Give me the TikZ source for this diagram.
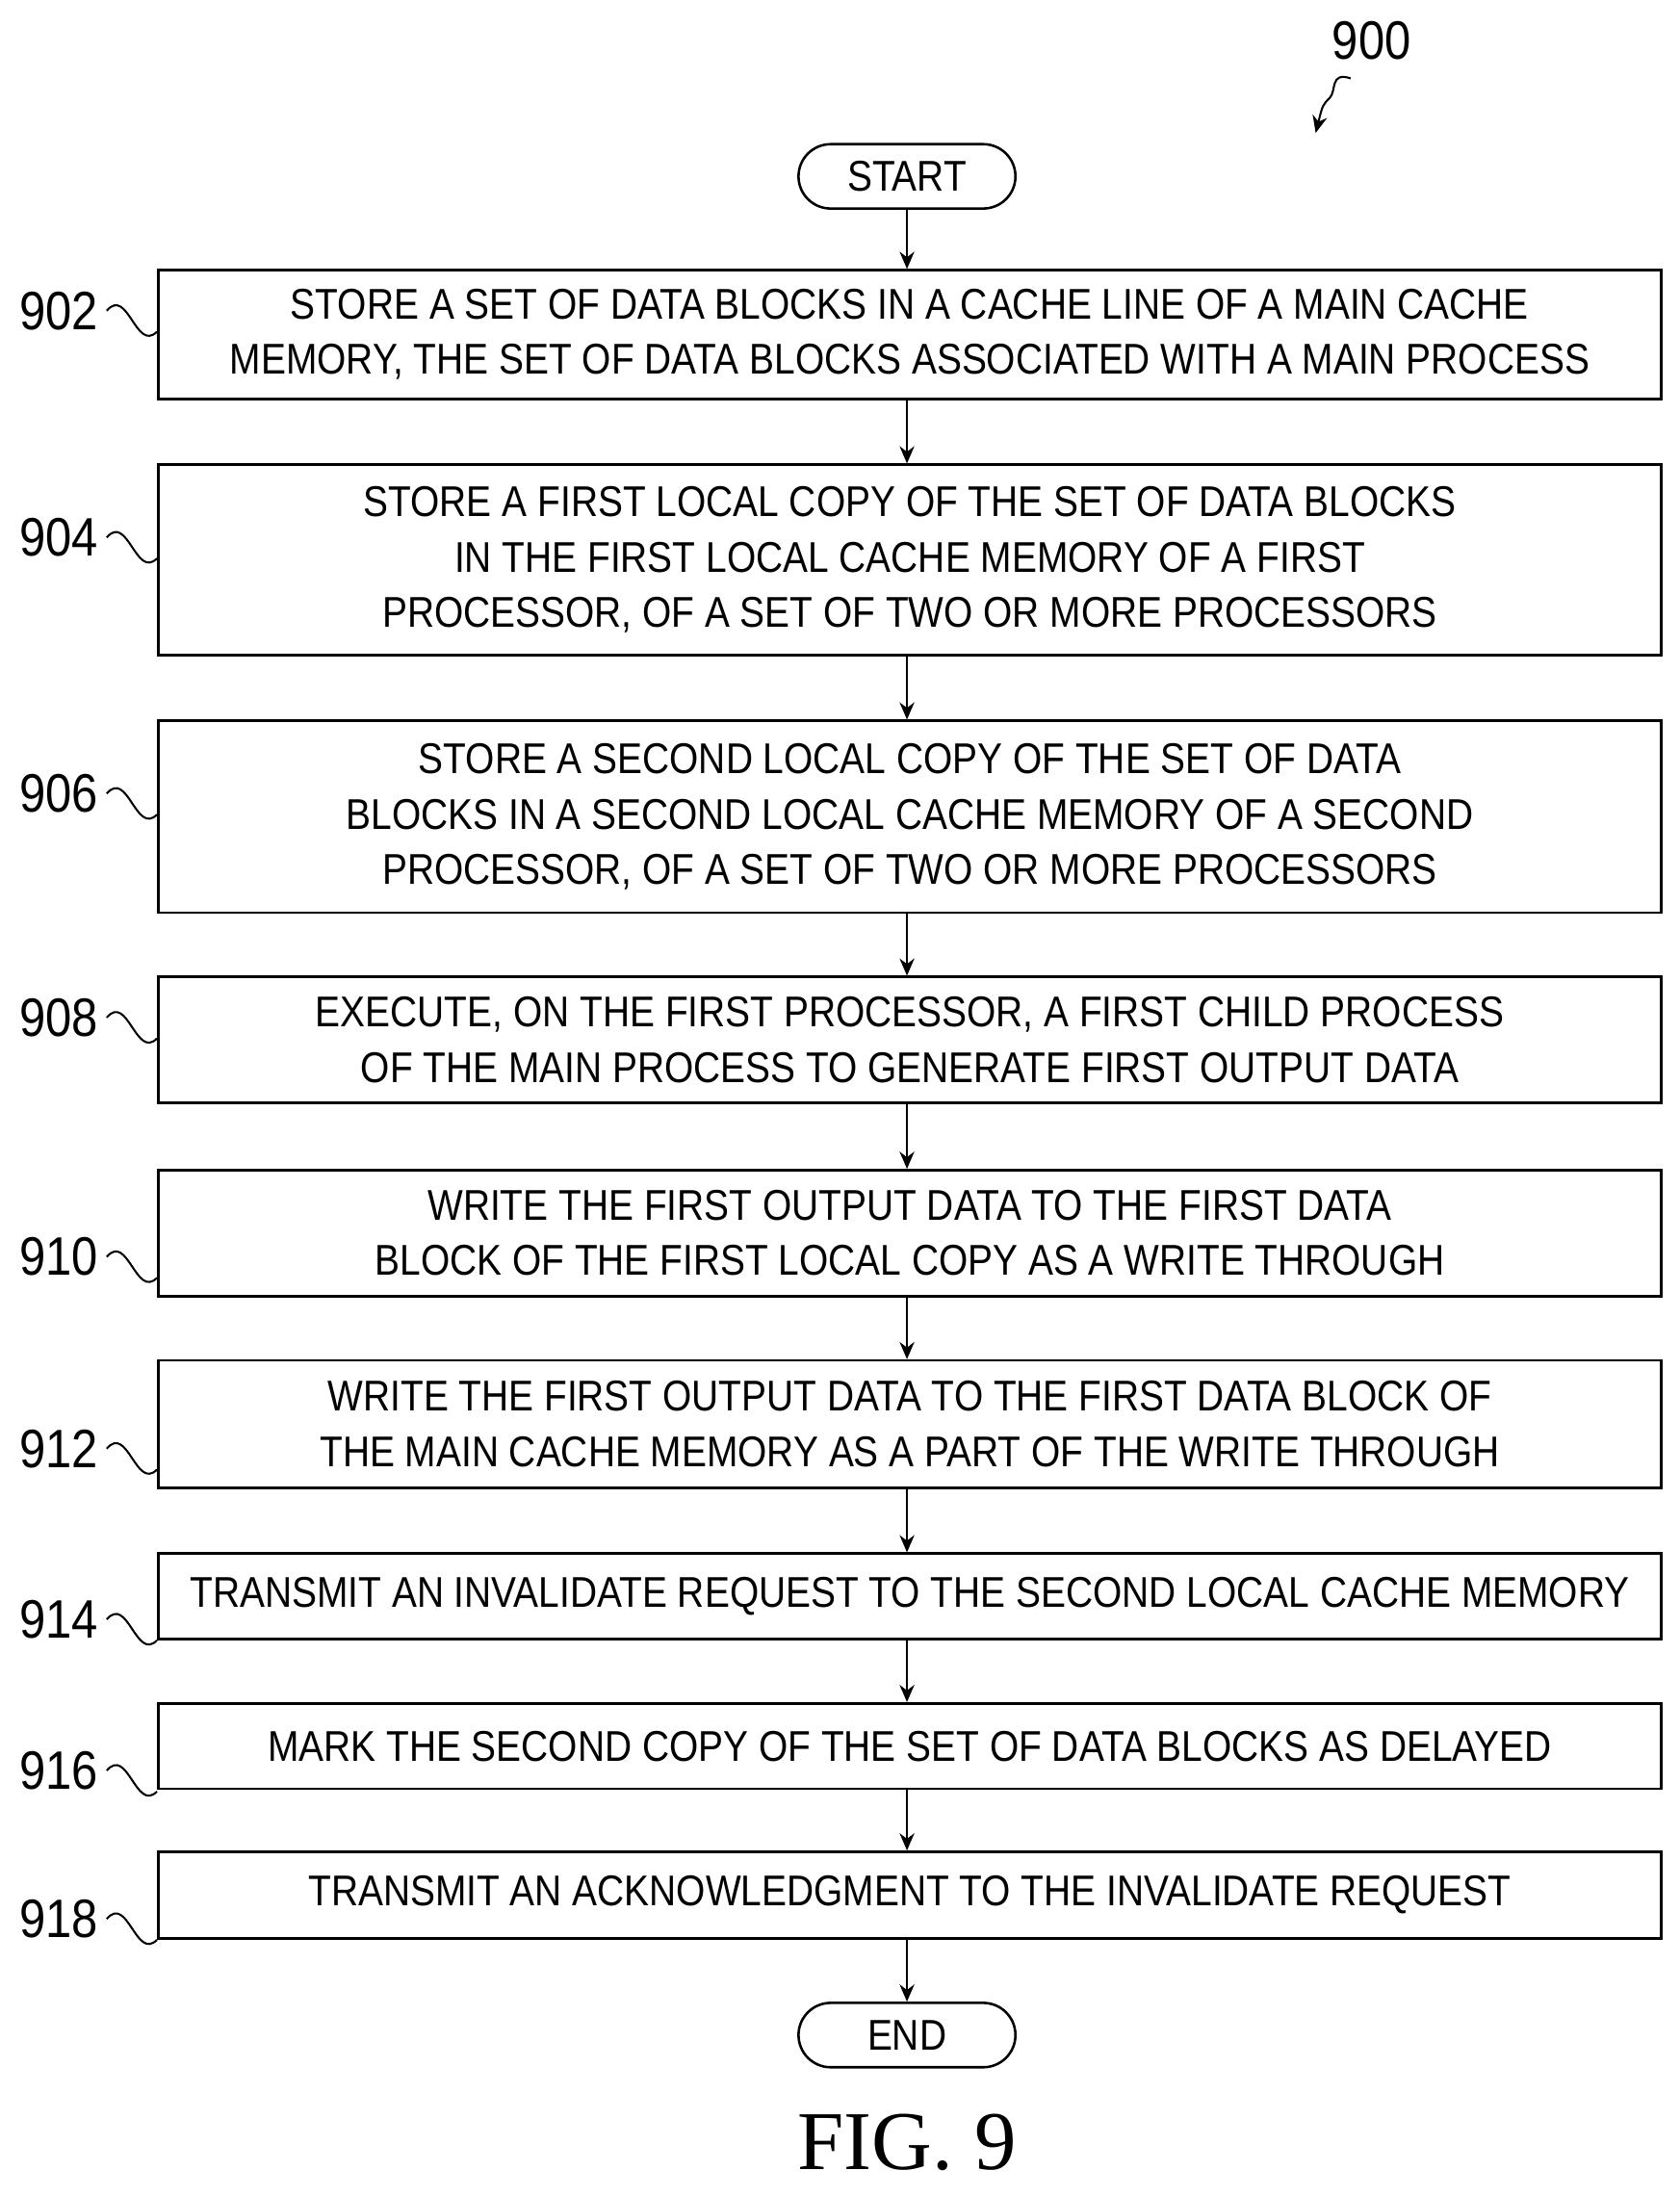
\documentclass[tikz,border=0pt]{standalone}
\usepackage{fontspec}
\setmainfont{Liberation Sans}[FakeStretch=0.87]
\newfontfamily\figfont{Liberation Serif}
\usetikzlibrary{arrows.meta}

\begin{document}
\begin{tikzpicture}[>={Stealth[length=7pt,width=6pt]},
    procbox/.style={draw, line width=1pt, align=center, minimum width=21.48cm,
        font=\fontsize{17.5}{22.5}\selectfont, inner sep=0pt},
    term/.style={draw, line width=1pt, rounded corners=0.46cm, minimum width=3.1cm,
        minimum height=0.92cm, font=\fontsize{17.5}{20}\selectfont},
    num/.style={font=\fontsize{22}{24}\selectfont, anchor=center}]
    % page frame
    \useasboundingbox (0,0) rectangle (24,-31.38);

    % terminals
    \node[term] (start) at (12.96,-2.52) {START};
    \node[term] (stop) at (12.96,-29.08) {END};

    % process steps
    \node[procbox, minimum height=1.84cm] (b902) at (13,-4.78) {STORE A SET OF DATA BLOCKS IN A CACHE LINE OF A MAIN CACHE\\MEMORY, THE SET OF DATA BLOCKS ASSOCIATED WITH A MAIN PROCESS};
    \node[procbox, minimum height=2.72cm] (b904) at (13,-8.0) {STORE A FIRST LOCAL COPY OF THE SET OF DATA BLOCKS\\IN THE FIRST LOCAL CACHE MEMORY OF A FIRST\\PROCESSOR, OF A SET OF TWO OR MORE PROCESSORS};
    \node[procbox, minimum height=2.74cm] (b906) at (13,-11.67) {STORE A SECOND LOCAL COPY OF THE SET OF DATA\\BLOCKS IN A SECOND LOCAL CACHE MEMORY OF A SECOND\\PROCESSOR, OF A SET OF TWO OR MORE PROCESSORS};
    \node[procbox, minimum height=1.8cm] (b908) at (13,-14.86) {EXECUTE, ON THE FIRST PROCESSOR, A FIRST CHILD PROCESS\\OF THE MAIN PROCESS TO GENERATE FIRST OUTPUT DATA};
    \node[procbox, minimum height=1.8cm] (b910) at (13,-17.62) {WRITE THE FIRST OUTPUT DATA TO THE FIRST DATA\\BLOCK OF THE FIRST LOCAL COPY AS A WRITE THROUGH};
    \node[procbox, minimum height=1.82cm] (b912) at (13,-20.35) {WRITE THE FIRST OUTPUT DATA TO THE FIRST DATA BLOCK OF\\THE MAIN CACHE MEMORY AS A PART OF THE WRITE THROUGH};
    \node[procbox, minimum height=1.22cm] (b914) at (13,-22.81) {TRANSMIT AN INVALIDATE REQUEST TO THE SECOND LOCAL CACHE MEMORY};
    \node[procbox, minimum height=1.22cm] (b916) at (13,-24.95) {MARK THE SECOND COPY OF THE SET OF DATA BLOCKS AS DELAYED};
    \node[procbox, minimum height=1.24cm] (b918) at (13,-27.08) {TRANSMIT AN ACKNOWLEDGMENT TO THE INVALIDATE REQUEST};

    % flow arrows
    \foreach \a/\b in {start/b902, b902/b904, b904/b906, b906/b908, b908/b910,
        b910/b912, b912/b914, b914/b916, b916/b918, b918/stop}
        \draw[->, line width=0.8pt] (start.south |- \a.south) -- (start.south |- \b.north);

    % reference numerals
    \foreach \n/\y in {902/-4.44, 904/-7.68, 906/-11.34, 908/-14.54, 910/-17.96,
        912/-20.7, 914/-23.14, 916/-25.3, 918/-27.42} {
        \node[num] (l\n) at (0.84,\y) {\n};
        \draw[line width=0.8pt] (l\n.east) .. controls +(0.3,0.35) and +(-0.3,-0.3) .. (b\n.west |- 0,\y-0.3);
    }

    % figure numeral
    \node[num] (l900) at (19.6,-0.58) {900};
    \coordinate (p900) at (18.8,-1.9);
    \draw[->, line width=0.8pt] (19.3,-1.12) .. controls +(-0.3,0.1) and +(0.1,0.1) .. (19.0,-1.4) .. controls +(-0.1,-0.1) .. (p900);

    % caption
    \node[font=\figfont\fontsize{34}{36}\selectfont] (cap) at (12.96,-30.62) {FIG. 9};
\end{tikzpicture}
\end{document}
